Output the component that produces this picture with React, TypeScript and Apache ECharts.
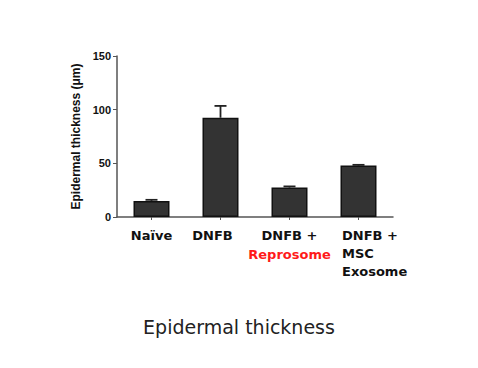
import React, { useEffect, useRef } from "react";
import * as echarts from "echarts";

const categories = ["Naïve", "DNFB", "DNFB +\nReprosome", "DNFB +\nMSC\nExosome"];
const means = [15, 92.5, 27.5, 48];
const errors = [1, 11, 1, 0.6];
const yTicks = [0, 50, 100, 150];

export default function App() {
  const ref = useRef<HTMLDivElement>(null);
  useEffect(() => {
    if (!ref.current) return;
    const chart = echarts.init(ref.current, undefined, { renderer: "svg" });
    const labelFont = { fontFamily: "DejaVu Sans, sans-serif", fontWeight: "bold" as const };
    const nameFont = { fontFamily: "Liberation Sans, Arial, sans-serif", fontWeight: "bold" as const };
    chart.setOption({
      animation: false,
      backgroundColor: "#ffffff",
      title: {
        text: "Epidermal thickness",
        left: "center",
        top: 312,
        textStyle: { fontFamily: "DejaVu Sans, sans-serif", fontWeight: "normal", fontSize: 19, color: "#222" },
      },
      grid: { left: 117, right: 85, top: 56, bottom: 151 },
      xAxis: {
        type: "category",
        data: categories.map((c, i) => {
          if (i === 1) return { value: c, textStyle: { padding: [0, 16, 0, 0] } };
          return c;
        }),
        axisLine: { lineStyle: { color: "#555", width: 1.5 } },
        axisTick: { show: true, alignWithLabel: true, length: 3, lineStyle: { color: "#555" } },
        axisLabel: {
          ...labelFont,
          fontSize: 13,
          color: "#111",
          margin: 9,
          lineHeight: 19,
          interval: 0,
          formatter: (v: string, i: number) => {
            if (i === 2) return "DNFB +\n{r|Reprosome}";
            if (i === 3) return "{l|DNFB +}\n{l|MSC}\n{l|Exosome}";
            return v;
          },
          rich: {
            r: { ...labelFont, fontSize: 13, color: "#ff1a1a", lineHeight: 19 },
            l: { ...labelFont, fontSize: 13, color: "#111", lineHeight: 18, width: 66, align: "left", padding: [0, 0, 0, 33] },
          },
        },
      },
      yAxis: {
        type: "value",
        min: yTicks[0],
        max: yTicks[yTicks.length - 1],
        interval: 50,
        name: "Epidermal thickness (μm)",
        nameLocation: "middle",
        nameGap: 35,
        nameTextStyle: { ...nameFont, fontSize: 12, color: "#111" },
        axisLine: { show: true, lineStyle: { color: "#555", width: 1.5 } },
        axisTick: { show: true, length: 4, lineStyle: { color: "#555" } },
        splitLine: { show: false },
        axisLabel: { fontFamily: "Liberation Sans, Arial, sans-serif", fontWeight: "bold", fontSize: 11, color: "#111", margin: 6 },
      },
      series: [
        {
          type: "bar",
          data: means,
          barWidth: 36,
          itemStyle: { color: "#333333", borderColor: "#111", borderWidth: 1.5 },
          z: 2,
        },
        {
          type: "custom",
          data: means.map((m, i) => [i, m, m + errors[i]]),
          z: 1,
          renderItem: (_params: any, api: any) => {
            const x = api.value(0);
            const base = api.coord([x, api.value(1)]);
            const top = api.coord([x, api.value(2)]);
            const half = 6;
            const style = { stroke: "#222", lineWidth: 1.8 };
            return {
              type: "group",
              children: [
                { type: "line", shape: { x1: base[0], y1: base[1], x2: top[0], y2: top[1] }, style },
                { type: "line", shape: { x1: top[0] - half, y1: top[1], x2: top[0] + half, y2: top[1] }, style },
              ],
            };
          },
        },
      ],
    });
    return () => chart.dispose();
  }, []);
  return <div ref={ref} style={{ position: "fixed", left: 0, top: 0, width: 478, height: 368 }} />;
}
